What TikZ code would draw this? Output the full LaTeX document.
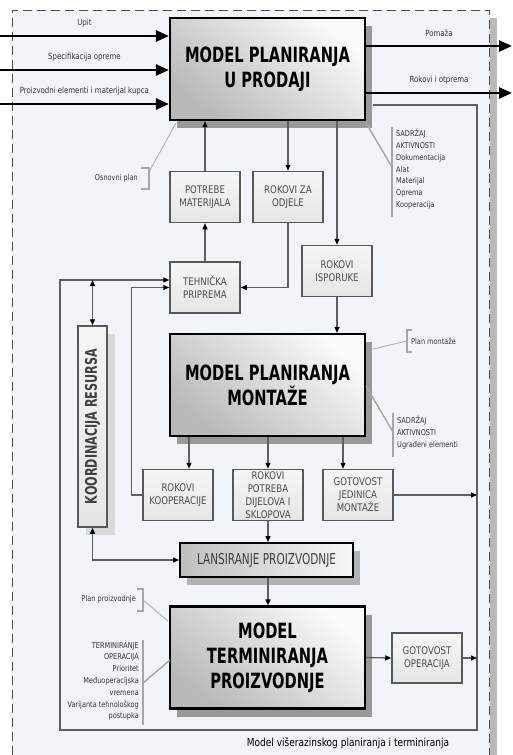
\documentclass[tikz,border=0pt]{standalone}
\usepackage{fontspec}
\setmainfont{DejaVu Sans}[FakeStretch=0.82]
\newfontfamily\headfont{DejaVu Sans}[FakeStretch=0.7]
\usetikzlibrary{arrows.meta,shadows,calc}
\definecolor{bgblue}{RGB}{241,244,248}
\definecolor{boxline}{RGB}{88,88,88}
\definecolor{linegray}{RGB}{95,95,95}

\begin{document}
\begin{tikzpicture}[x=1pt,y=-1pt,
  mainbox/.style={draw=black,line width=2.2pt,minimum width=195pt,minimum height=102pt,align=center,
    top color=gray!4,bottom color=gray!55,shading angle=-40,
    font=\headfont\bfseries\fontsize{21}{25}\selectfont,
    drop shadow={shadow xshift=7pt,shadow yshift=-8pt,fill=gray!80,opacity=1}},
  smallbox/.style={draw=boxline,line width=1.5pt,minimum width=70pt,minimum height=51pt,inner sep=1pt,
    align=center,top color=gray!7,bottom color=gray!20,text=black!70,font=\fontsize{10.5}{13}\selectfont},
  longbox/.style={draw=black,line width=2pt,minimum width=173pt,minimum height=34pt,
    left color=gray!50,right color=gray!6,text=black!75,font=\headfont\fontsize{15}{17}\selectfont,
    drop shadow={shadow xshift=7pt,shadow yshift=-8pt,fill=gray!60,opacity=1}},
  sidebox/.style={draw=boxline,line width=1.5pt,minimum width=29pt,minimum height=201pt,inner sep=0pt,
    top color=gray!8,bottom color=gray!20,text=black!75,font=\headfont\bfseries\fontsize{16}{18}\selectfont,
    drop shadow={shadow xshift=8pt,shadow yshift=-8pt,fill=gray!30,opacity=1}},
  note/.style={inner sep=0pt,text=black!80,font=\fontsize{8}{11.8}\selectfont},
  lbl/.style={text=black!80,font=\fontsize{8.5}{10}\selectfont},
  bigarr/.style={line width=2.6pt,-{Triangle[length=13pt,width=11pt]}},
  arr/.style={draw=linegray,line width=1.3pt,-{Triangle[length=6pt,width=5pt,color=black]}},
  arrtwo/.style={draw=linegray,line width=1.3pt,{Triangle[length=6pt,width=5pt,color=black]}-{Triangle[length=6pt,width=5pt,color=black]}},
  bar/.style={draw=gray!70,line width=1.4pt},
  thin/.style={draw=gray!60,line width=0.9pt}]
\useasboundingbox (0,0) rectangle (512,755);
\fill[bgblue] (12,10) rectangle (490,755);
\fill[gray!55] (490,18) rectangle (497,755);
\draw[gray!60!black,line width=1pt,dash pattern=on 9pt off 5pt] (12,755) -- (12,10) -- (489,10) -- (489,755);

\node[mainbox] (prodaja) at (267.5,69) {MODEL PLANIRANJA\\U PRODAJI};
\node[smallbox] (potrebe) at (205,197) {POTREBE\\MATERIJALA};
\node[smallbox] (odjele) at (288,197) {ROKOVI ZA\\ODJELE};
\node[smallbox] (tehnicka) at (205,287.5) {TEHNIČKA\\PRIPREMA};
\node[smallbox] (isporuke) at (337,271) {ROKOVI\\ISPORUKE};
\node[mainbox] (montaza) at (267.5,385) {MODEL PLANIRANJA\\MONTAŽE};
\node[sidebox] (koord) at (92.5,426.5) {\rotatebox{90}{KOORDINACIJA RESURSA}};
\node[smallbox] (kooperacija) at (178,495) {ROKOVI\\KOOPERACIJE};
\node[smallbox] (dijelovi) at (268,495) {ROKOVI\\POTREBA\\DIJELOVA I\\SKLOPOVA};
\node[smallbox] (gotovostm) at (358,495) {GOTOVOST\\JEDINICA\\MONTAŽE};
\node[longbox] (lansiranje) at (266.5,560) {LANSIRANJE PROIZVODNJE};
\node[mainbox] (terminiranje) at (267.5,657.5) {MODEL\\TERMINIRANJA\\PROIZVODNJE};
\node[smallbox,minimum height=50pt] (gotovosto) at (427,658) {GOTOVOST\\OPERACIJA};

\coordinate (in1) at (0,36);
\coordinate (in2) at (0,70);
\coordinate (in3) at (0,104);
\coordinate (out1) at (512,46);
\coordinate (out2) at (512,93);
\draw[bigarr] (in1) -- (in1 -| prodaja.west) node[lbl,midway,above=4pt] {Upit};
\draw[bigarr] (in2) -- (in2 -| prodaja.west) node[lbl,midway,above=4pt] {Specifikacija opreme};
\draw[bigarr] (in3) -- (in3 -| prodaja.west) node[lbl,midway,above=4pt] {Proizvodni elementi i materijal kupca};
\draw[bigarr] (out1 -| prodaja.east) -- (out1) node[lbl,midway,above=5pt] {Pomaža};
\draw[bigarr] (out2 -| prodaja.east) -- (out2) node[lbl,midway,above=4pt] {Rokovi i otprema};

\coordinate (fbtr) at (477,105);
\coordinate (fbbr) at (477,730);
\coordinate (fbbl) at (60,730);
\coordinate (tin) at ([yshift=7.5pt]tehnicka.west);
\coordinate (m1) at ([xshift=11pt]kooperacija.north);
\coordinate (m3) at ([xshift=-15pt]gotovostm.north);
\draw[arr] ($(fbtr -| prodaja.east)+(7,0)$) -- (fbtr) -- (fbbr) -- (fbbl) |- (tin);
\draw[arr] (potrebe.north) -- (potrebe.north |- prodaja.south);
\draw[arr] (odjele.north |- prodaja.south) -- (odjele.north);
\draw[arr] (isporuke.north |- prodaja.south) -- (isporuke.north);
\draw[arr] (tehnicka.north) -- (potrebe.south);
\draw[arr] (odjele.south) |- (tehnicka.east);
\draw[arr] (isporuke.south) -- (isporuke.south |- montaza.north);
\draw[arr] (kooperacija.west) -- ++(-11,0) |- (tehnicka.west);
\draw[arrtwo] (koord.north |- tin) -- (koord.north);
\draw[arrtwo] (koord.south) |- (lansiranje.west);
\draw[arr] (m1 |- montaza.south) -- (m1);
\draw[arr] (dijelovi.north |- montaza.south) -- (dijelovi.north);
\draw[arr] (m3 |- montaza.south) -- (m3);
\draw[arr] (dijelovi.south) -- (dijelovi.south |- lansiranje.north);
\draw[arr] (dijelovi.south |- lansiranje.south) -- (dijelovi.south |- terminiranje.north);
\draw[arr] (gotovostm.east) -- (gotovostm.east -| fbbr);
\draw[arr] (terminiranje.east) -- (gotovosto.west);
\draw[arr] (gotovosto.east) -- (gotovosto.east -| fbbr);

\node[note,anchor=east] (osnovni) at (138,178) {Osnovni plan};
\draw[bar] (141,168) -- (149,168) -- (149,189) -- (141,189);
\draw[thin] (149,172) -- (176,123);
\node[note,anchor=north west,align=left] (sadrzaj) at (396,129) {SADRŽAJ\\AKTIVNOSTI\\Dokumentacija\\Alat\\Materijal\\Oprema\\Kooperacija};
\draw[bar] (392,127) -- (392,217);
\draw[bar] (366,123) -- (392,167);
\node[note,anchor=west] (planm) at (411,341) {Plan montaže};
\draw[bar] (412,330) -- (407,330) -- (407,352) -- (412,352);
\draw[thin] (373,349) -- (407,341);
\node[note,anchor=north west,align=left] (sadrzajm) at (397,416) {SADRŽAJ\\AKTIVNOSTI\\Ugrađeni elementi};
\draw[bar] (393,413) -- (393,457);
\draw[bar] (366,386) -- (393,432);
\node[note,anchor=east] (planp) at (136,599) {Plan proizvodnje};
\draw[bar] (137,589) -- (143,589) -- (143,611) -- (137,611);
\draw[thin] (143,600) -- (168,621);
\node[note,anchor=north east,align=right] (termop) at (139,642) {TERMINIRANJE\\OPERACIJA\\Prioritet\\Međuoperacijska\\vremena\\Varijanta tehnološkog\\postupka};
\draw[bar] (143,640) -- (143,725);
\draw[bar] (143,683) -- (170,660);
\node[font=\fontsize{11}{13}\selectfont] (caption) at (348,743) {Model višerazinskog planiranja i terminiranja};
\end{tikzpicture}
\end{document}
